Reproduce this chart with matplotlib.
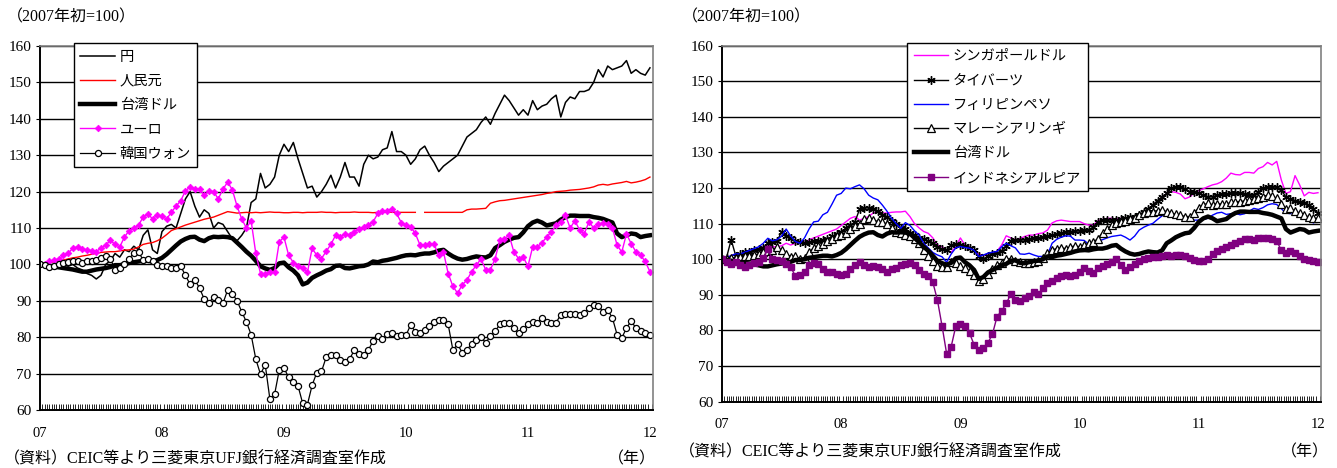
import numpy as np
import matplotlib
matplotlib.use("Agg")
import matplotlib.pyplot as plt
from matplotlib.ticker import MultipleLocator

# 隔週データ（2007年初=100）、2007年1月〜2011年12月
yen = [100, 100, 99.5, 99, 99.5, 100, 99.5, 100, 99, 98.5,
       97.5, 97, 96, 97, 100, 101, 103, 102, 104, 103.5,
       105, 104, 108, 109.5, 104, 103, 109, 110.5, 111, 110,
       114, 118, 120, 116, 113, 115, 114, 110, 111.5, 111,
       109, 107, 106.5, 108, 110, 117, 118, 125, 121, 122,
       124, 130, 133, 131, 133.5, 129, 125, 121, 121.5, 118.5,
       120, 122, 124.5, 121, 124, 128, 124, 124, 121.5, 127.5,
       130, 129, 129.5, 131.5, 132, 136.5, 131, 131, 130, 127.5,
       129, 131.5, 132.5, 130, 128, 125.5, 127, 128, 129, 130,
       132.5, 135, 136, 137, 139, 140.5, 138.5, 141.5, 144, 146.5,
       145, 143, 141, 142.5, 141, 145, 142.5, 143.5, 144, 145.5,
       146.5, 140.5, 144.5, 146, 145.5, 147.5, 147.5, 148, 150, 153.5,
       151.5, 154.5, 153.5, 154, 154.5, 156, 152.5, 153.5, 152.5, 152,
       154]

cny = [100, 100.2, 100.5, 100.7, 101.0, 101.2, 101.5, 101.8, 102.0, 102.3,
       102.5, 102.8, 103.0, 103.3, 103.4, 103.5, 103.5, 103.7, 103.9, 104.0,
       104.2, 104.8, 105.5, 105.8, 106.0, 106.5, 107.2, 108.2, 109.3, 109.8,
       110.3, 110.8, 111.2, 111.6, 112.0, 112.4, 112.7, 113.0, 113.5, 114.0,
       114.5, 114.3, 114.1, 114.2, 114.3, 114.2, 114.3, 114.2, 114.3, 114.4,
       114.3, 114.3, 114.2, 114.2, 114.3, 114.3, 114.2, 114.3, 114.3, 114.3,
       114.4, 114.3, 114.3, 114.2, 114.3, 114.3, 114.3, 114.4, 114.3, 114.3,
       114.3, 114.2, 114.3, 114.3, 114.4, 114.3, 114.3, 114.3, 114.3, 114.3,
       114.3, np.nan, 114.3, 114.3, 114.3, 114.3, 114.3, 114.3, 114.3, 114.3,
       114.3, 115.0, 115.2, 115.2, 115.3, 115.4, 116.8, 117.2, 117.5, 117.6,
       117.8, 118.0, 118.2, 118.4, 118.6, 118.8, 119.0, 119.2, 119.5, 119.7,
       120.0, 120.1, 120.2, 120.4, 120.5, 120.6, 120.8, 121.0, 121.3, 121.8,
       122.0, 121.8, 122.1, 122.3, 122.5, 122.8, 122.4, 122.6, 122.9, 123.3,
       124.0]

twd = [100, 99.8, 99.6, 99.4, 99.2, 99.0, 98.8, 98.6, 98.3, 98.0,
       98.0, 98.3, 98.6, 98.8, 99.0, 99.3, 99.8, 99.8, 100, 100.4,
       100.6, 100.8, 101.0, 101.0, 100.8, 101.2, 101.8, 102.8, 104, 105.2,
       106.3, 107, 107.5, 107.6, 106.8, 106.4, 107.2, 107.6, 107.5, 107.6,
       107.5, 107.2, 106, 104.8, 103.5, 102.4, 101, 99.5, 98.9, 98.5,
       99, 100.3, 100.5, 99.2, 98.3, 97, 94.5, 95, 96.3, 97,
       97.6, 98.3, 98.7, 99.6, 99.7, 99, 98.9, 99.2, 99.5, 99.6,
       100, 100.8, 100.6, 101, 101.2, 101.5, 101.8, 102.2, 102.5, 102.6,
       102.5, 102.8, 103, 103, 103.3, 103.8, 104, 103, 102.2, 101.6,
       101.3, 101.5, 101.9, 102.2, 102, 101.9, 102.5, 104.5, 105.3, 106.2,
       106.8, 107.3, 107.5, 108.8, 110.5, 111.5, 112, 111.5, 110.7, 111,
       111.3, 112.3, 113, 113.4, 113.4, 113.3, 113.3, 113.3, 113.0, 112.8,
       112.5, 112, 111.5, 108.5, 107.5, 108, 108.5, 108.3, 107.5, 107.8,
       108]

eur = [100, 100.2, 100.8, 101.2, 101.5, 102.5, 103, 104.5, 104.8, 104.3,
       104, 103.8, 103.5, 104.5, 105.3, 106.6, 105.5, 104.8, 107.5, 109.3,
       110, 110.8, 113, 113.9, 112.5, 113.6, 113.2, 112.5, 114.3, 116,
       117.5, 120.2, 121.3, 120.7, 120.7, 119, 120.2, 120, 118, 120.7,
       122.6, 120.5, 116, 112.5, 110, 112, 103, 97.5, 97.3, 98,
       98, 106.2, 107.5, 102.5, 100.5, 99.5, 99, 97.8, 104.4, 102.5,
       101.6, 103.6, 105.5, 108, 107.6, 108.4, 108, 109, 109.8, 110.2,
       110.8, 111.7, 114, 114.6, 114.8, 115.3, 114, 111.5, 110.7, 110.3,
       108.5, 105.3, 105.3, 105.7, 105.5, 102.5, 103.4, 97.5, 94, 92.1,
       94.4, 95.7, 98, 99.8, 101.5, 98.5, 98.5, 101.6, 106.6, 107.1,
       108, 103.4, 101.6, 102, 99.5, 104.8, 104.8, 106, 107.5, 109,
       110.7, 111.7, 113.5, 110, 112, 109.5, 108.4, 111.7, 110, 111,
       111.4, 111.2, 110, 105.3, 103.4, 108.4, 105.7, 103.5, 102.5, 100.8,
       98]

krw = [100, 99.8, 99.3, 99.5, 100, 100.3, 100.6, 100.8, 100.8, 100.5,
       100.8, 100.8, 101.2, 101.8, 102.2, 101.6, 98.5, 99, 100, 101.5,
       103.2, 103.4, 101.2, 101.6, 100.8, 99.8, 99.5, 99.5, 99, 99,
       99.5, 97, 94.5, 95.8, 93.5, 90.5, 89.5, 91, 90.3, 89.3,
       93, 92, 90, 87, 84.2, 80.7, 74, 69.8, 72.5, 63,
       64.3, 71, 71.5, 69, 67.8, 66.6, 61.8, 61.5, 66.8, 70.3,
       70.6, 74.5, 75, 75, 73.8, 73.2, 74, 76.5, 75.5, 75.2,
       76.5, 79, 80.2, 79.5, 80.8, 81.2, 80.2, 80.5, 80.5, 83.4,
       81.5, 81.2, 82, 83.2, 84.2, 84.8, 84.8, 83.5, 76.5, 78,
       75.8, 76.5, 78.2, 79.2, 80, 78.5, 80.3, 81.6, 83.5, 83.8,
       83.8, 82.5, 81.2, 82.3, 83.7, 84.2, 84, 85.2, 84.2, 84,
       84, 86.2, 86.5, 86.4, 86.3, 86.2, 86.6, 88, 88.9, 88.7,
       87, 87.5, 85.3, 80.7, 79.8, 82.5, 84.5, 82.5, 81.6, 81.2,
       80.7]

sgd = [100, 100.5, 101, 101.5, 101, 101.5, 102, 102.5, 103, 103.5,
       104, 103.5, 103.5, 103.8, 104.5, 104, 104.5, 105, 104.8, 105.5,
       106, 106.5, 107, 107.5, 108, 108.5, 109.5, 110.5, 111.5, 112,
       111, 111.5, 112, 113, 113.5, 113, 113, 113.2, 113.3, 113.3,
       113.5, 112, 110, 108.8, 107.8, 107.3, 106, 104, 103.5, 102.5,
       102, 103.5, 106, 104, 103.5, 102.5, 101.5, 101, 101.5, 101.8,
       102.3, 104, 106.6, 106, 105.5, 105.8, 106.4, 106.8, 106.8, 107.2,
       107.4, 108.2, 110.2, 110.8, 111, 110.8, 110.6, 110.6, 110.6, 110,
       109.6, 109.6, 110.8, 111.2, 111.5, 111.5, 111.3, 111.5, 111.6, 111.5,
       111.8, 112, 112.5, 114, 115.3, 116.3, 117.3, 118.5, 119, 118.8,
       118.3, 117, 117.5, 118.6, 119.3, 119.8, 120.4, 120.9, 121.2, 121.8,
       122.8, 124.2, 123.8, 123.7, 124.4, 124.4, 124.2, 125.5, 126, 127.2,
       126.5, 127.5, 122.3, 118.5, 119, 123.5, 120.9, 117.8, 118.8, 118.5,
       118.7]

thb = [100, 100.5, 105.5, 101, 101.5, 102, 102, 102.5, 102.8, 103.2,
       104.5, 104.8, 105, 107.8, 106.5, 105.9, 105, 104.8, 104.5, 104.8,
       105, 105.2, 105.4, 105.8, 106.4, 107, 107.8, 108.7, 109.6, 110.5,
       114, 114.5, 114.5, 114, 113.5, 112.5, 112, 110.8, 109.8, 108.7,
       108.4, 107.5, 106.8, 106, 105.7, 105.2, 104.5, 103.5, 102.8, 102.6,
       104, 104.3, 104, 103.8, 103.3, 102.5, 100.8, 100, 101, 101.5,
       101.7, 102.4, 103.8, 105, 105.3, 105.4, 105.5, 105.7, 105.9, 105.9,
       106.2, 106.5, 106.8, 107, 107.3, 107.6, 107.8, 107.9, 108, 108.1,
       108.2, 109, 110.5, 111, 111, 111, 111, 111.2, 111.5, 111.8,
       112, 112.5, 113.4, 114.2, 115.3, 116.5, 117.5, 118.5, 120, 120.2,
       120.4, 119.8, 119, 118.8, 118.5, 118, 117.6, 117.6, 118, 118.2,
       118.4, 118.5, 118.5, 118.5, 118.3, 118, 118, 118.8, 119.9, 120.2,
       120.4, 120.2, 119.5, 117.5, 117, 116.5, 116.2, 115.8, 115.3, 114,
       113]

php = [100, 100.5, 101, 101.5, 101.5, 102, 102.5, 103, 103.5, 104.5,
       105.9, 105.2, 105.5, 106.5, 108.5, 106.5, 105, 104.5, 106, 108.5,
       110.5, 110.7, 112.5, 113.2, 115.5, 118, 118.5, 120, 119.8, 120.4,
       120.9, 119.8, 118, 117.2, 116.7, 115.2, 113.5, 111.5, 110, 108.7,
       110.3, 109.5, 108, 106.8, 104.5, 103.2, 101.9, 101.2, 100.7, 99.2,
       101.5, 103.2, 103.6, 103.3, 103.1, 102.5, 100.8, 101.2, 101.7, 102,
       102.2, 103.5, 104.5, 103.8, 103.2, 101.5, 101.4, 101.7, 101.2, 100.8,
       100.8, 101.2, 104.5, 105.6, 106.2, 106.6, 106.5, 105.4, 105.4, 105.3,
       104.2, 104.6, 105.2, 105.5, 106, 106.4, 106.6, 106.8, 106.2, 105.4,
       106.5, 108.2, 109, 109.6, 110.1, 111.2, 112.2, 112.9, 112.7, 112.2,
       111.5, 111.2, 111, 111, 111, 111.2, 111.5, 112.4, 113, 113.2,
       112.6, 112.8, 112.9, 112.5, 112.8, 113.5, 114.3, 114, 114.5, 115.3,
       115.6, 115.4, 114.2, 113, 112.8, 113.9, 112.8, 112, 111.5, 110.2,
       111]

myr = [100, 100, 100.3, 100.5, 100.7, 100.8, 101, 101.2, 101.5, 102,
       102.3, 102.6, 103.4, 102.5, 101.5, 100.7, 101, 100, 100.5, 102,
       103.2, 103.6, 104.2, 105, 105.6, 106.4, 106.8, 107.5, 108.5, 109.4,
       110, 111.2, 111.5, 111, 110.6, 110.6, 109.8, 108.8, 107.8, 107.3,
       106.8, 106.4, 105.6, 104.6, 102.5, 101, 99.5, 98.2, 97.9, 97.9,
       99.3, 99, 98, 97.5, 96.6, 95.5, 93.8, 94.4, 96, 97.2,
       98.4, 99, 100, 100.2, 99.6, 99.2, 99, 99, 99.3, 99.6,
       100.5, 101.7, 102.6, 103, 103.2, 103, 103.4, 103.8, 103.5, 104,
       104.5, 104.8, 105.8, 107.5, 108.4, 109.5, 110.2, 110.5, 110.8, 111.2,
       111.7, 112.4, 112.9, 113.2, 113.4, 113.7, 113.8, 113.4, 113, 112.6,
       112.3, 112, 112, 113, 114.5, 115.3, 115.7, 115.3, 115.6, 115.5,
       115.4, 116, 116.2, 116.2, 116.4, 116.7, 117, 117.3, 117.6, 118,
       117.8, 117.1, 115.5, 114, 114.3, 113.5, 112.9, 112.5, 111.8, 111.5,
       111.5]

idr = [100, 99.2, 98.8, 99.2, 98.5, 97.9, 98.5, 98.9, 99.3, 100.5,
       102.8, 100, 99.8, 99.5, 98.8, 97.8, 95.3, 95.6, 96.5, 98.4,
       98.9, 98.6, 97.4, 96.5, 96.5, 96, 95.6, 95.8, 97.2, 98.4,
       99.3, 98.5, 97.8, 98.1, 97.9, 97.4, 96.5, 97.2, 97.5, 98.4,
       98.8, 98.9, 98.5, 97, 96, 95.3, 93.5, 88.5, 81.3, 73.5,
       75.5, 81.2, 81.8, 81.3, 79.2, 76, 74.5, 75, 76.5, 79,
       83.9, 85.5, 87.6, 90.2, 88.6, 88.3, 89, 89.8, 90.8, 90.2,
       91.8, 93.3, 94, 94.8, 95.2, 95.5, 95.3, 95.5, 96.5, 97.6,
       96.8, 96.2, 97.5, 98, 98.7, 99.3, 100.2, 98.5, 97, 97.9,
       98.8, 99.6, 100, 100.4, 100.7, 100.7, 100.8, 101.2, 101, 101.1,
       101.2, 100.8, 100.4, 99.9, 99.4, 99.5, 100, 101.5, 102.2, 102.8,
       103.5, 104.1, 104.7, 105.2, 105.6, 105.8, 105.4, 106, 106.1, 105.9,
       105.6, 105.2, 102.5, 101.8, 102.2, 101.8, 101, 100.2, 99.9, 99.6,
       99.3]

years = [2007, 2008, 2009, 2010, 2011, 2012]
year_labels = ["07", "08", "09", "10", "11", "12"]
t = 2007 + np.arange(len(yen)) / 26

SERIF = ["Liberation Serif", "Noto Sans CJK JP"]
JP = ["Noto Sans CJK JP", "Liberation Serif"]

fig = plt.figure(figsize=(13.37, 4.68), dpi=100)
ax1 = fig.add_axes([0.0299, 0.1239, 0.4585, 0.7778])
ax2 = fig.add_axes([0.5400, 0.1417, 0.4480, 0.7607])


def style_axes(ax):
    ax.set_xlim(2007, 2012.025)
    ax.set_ylim(60, 160)
    ax.set_yticks(range(60, 161, 10))
    ax.grid(axis="y", color="black", linewidth=1.0)
    ax.set_axisbelow(True)
    ax.set_xticks(years)
    ax.set_xticklabels(year_labels, family=SERIF, fontsize=10.5)
    ax.xaxis.set_minor_locator(MultipleLocator(1 / 52))
    ax.tick_params(axis="x", which="major", length=0, pad=12)
    ax.tick_params(axis="x", which="minor", direction="in", length=4.5, width=0.6, color="black")
    ax.tick_params(axis="y", direction="out", length=3, width=0.8, pad=3)
    for lab in ax.get_yticklabels():
        lab.set_family(SERIF)
        lab.set_fontsize(11)
    ax.spines["left"].set_linewidth(1.4)
    ax.spines["bottom"].set_linewidth(1.4)
    ax.spines["top"].set_color("#808080")
    ax.spines["right"].set_color("#808080")
    ax.spines["top"].set_linewidth(1.2)
    ax.spines["right"].set_linewidth(1.2)


style_axes(ax1)
style_axes(ax2)

# 左パネル
ax1.plot(t, yen, color="black", linewidth=1.1, label="円")
ax1.plot(t, cny, color="red", linewidth=1.0, label="人民元")
ax1.plot(t, twd, color="black", linewidth=3.2, label="台湾ドル")
ax1.plot(t, eur, color="#FF00FF", linewidth=1.0, marker="D", markersize=3.4,
         markeredgewidth=0.5, label="ユーロ")
ax1.plot(t, krw, color="black", linewidth=0.9, marker="o", markersize=4.4,
         markerfacecolor="white", markeredgecolor="black", markeredgewidth=0.9,
         label="韓国ウォン")

# 右パネル
ax2.plot(t, sgd, color="#FF00FF", linewidth=1.0, label="シンガポールドル")
ax2.plot(t, thb, color="black", linewidth=1.0, marker=(6, 2, 0), markersize=6,
         markeredgewidth=1.0, label="タイバーツ")
ax2.plot(t, php, color="#0000FF", linewidth=1.0, label="フィリピンペソ")
ax2.plot(t, myr, color="black", linewidth=1.0, marker="^", markersize=6,
         markerfacecolor="white", markeredgecolor="black", markeredgewidth=0.9,
         label="マレーシアリンギ")
ax2.plot(t, twd, color="black", linewidth=3.2, label="台湾ドル")
ax2.plot(t, idr, color="#800080", linewidth=1.0, marker="s", markersize=4.2,
         label="インドネシアルピア")

for ax, anchor in ((ax1, (0.0555, 1.008)), (ax2, (0.309, 1.008))):
    leg = ax.legend(loc="upper left", bbox_to_anchor=anchor, frameon=True,
                    fancybox=False, framealpha=1, edgecolor="black",
                    prop={"family": JP, "size": 10.3}, labelspacing=0.72,
                    handlelength=2.4, handletextpad=0.35, borderpad=0.45,
                    borderaxespad=0)
    leg.get_frame().set_linewidth(1.0)

fig.text(0.005, 0.962, "（2007年初=100）", family=SERIF, fontsize=11.5, va="center")
fig.text(0.510, 0.962, "（2007年初=100）", family=SERIF, fontsize=11.5, va="center")
fig.text(0.003, 0.018, "（資料）CEIC等より三菱東京UFJ銀行経済調査室作成", family=SERIF,
         fontsize=11.5, va="center")
fig.text(0.455, 0.018, "（年）", family=SERIF, fontsize=11.5, va="center")
fig.text(0.508, 0.034, "（資料）CEIC等より三菱東京UFJ銀行経済調査室作成", family=SERIF,
         fontsize=11.5, va="center")
fig.text(0.958, 0.034, "（年）", family=SERIF, fontsize=11.5, va="center")

fig.savefig("out.png", dpi=100)
